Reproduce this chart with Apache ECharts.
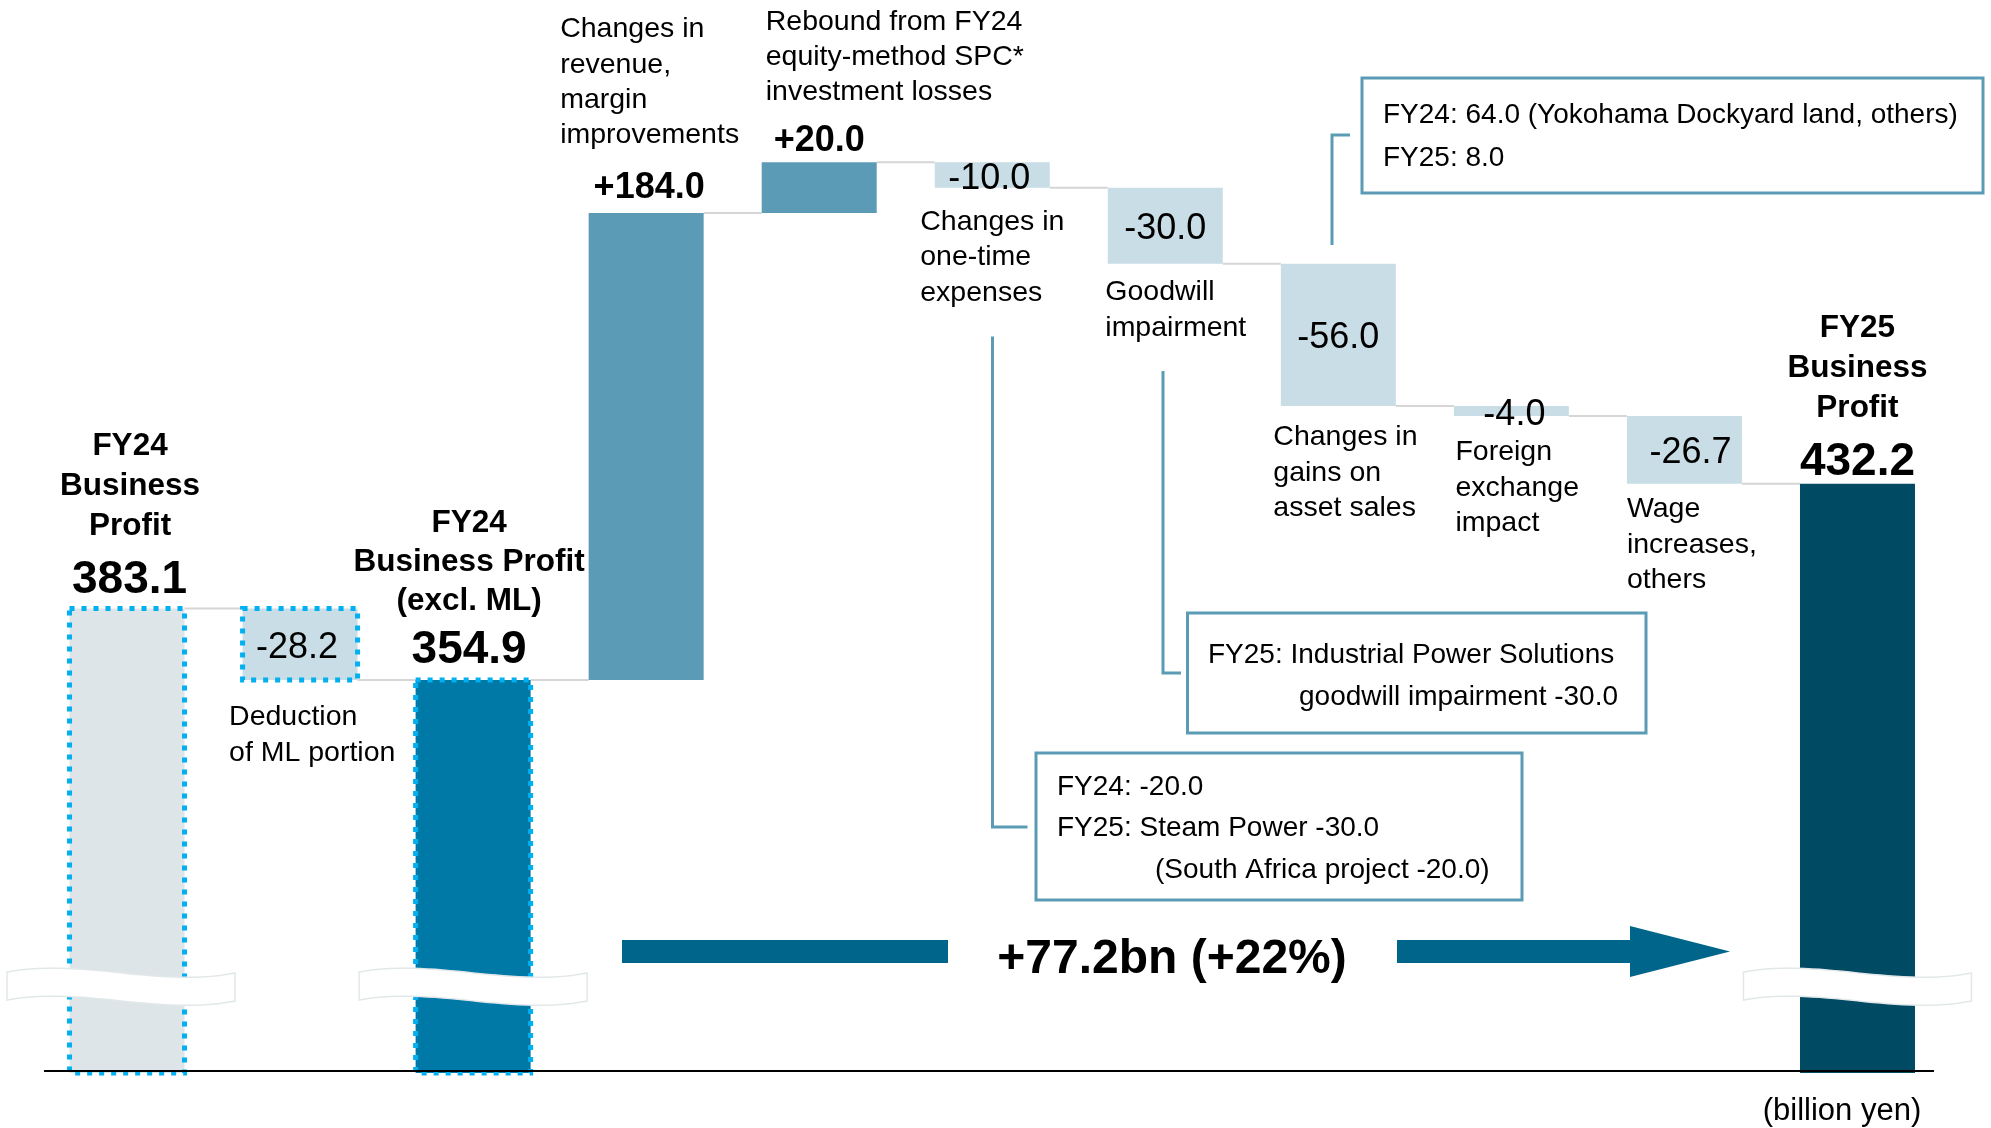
<!DOCTYPE html>
<html>
<head>
<meta charset="utf-8">
<title>FY25 Business Profit</title>
<script src="https://cdn.jsdelivr.net/npm/echarts@6.0.0/dist/echarts.min.js"></script>
<style>
    html, body { margin: 0; padding: 0; background: #fff; }
    #main { width: 1991px; height: 1128px; }
</style>
</head>
<body>
<div id="main"></div>
<script>
/************************    数据    ****************************/
var categories = [
    'FY24\nBusiness\nProfit',
    'Deduction\nof ML portion',
    'FY24\nBusiness Profit\n(excl. ML)',
    'Changes in\nrevenue,\nmargin\nimprovements',
    'Rebound from FY24\nequity-method SPC*\ninvestment losses',
    'Changes in\none-time\nexpenses',
    'Goodwill\nimpairment',
    'Changes in\ngains on\nasset sales',
    'Foreign\nexchange\nimpact',
    'Wage\nincreases,\nothers',
    'FY25\nBusiness\nProfit'
];
var values = [383.1, -28.2, 354.9, 184.0, 20.0, -10.0, -30.0, -56.0, -4.0, -26.7, 432.2];
var isTotal = [true, false, true, false, false, false, false, false, false, false, true];

var changeText = '+77.2bn (+22%)';
var unitText = '(billion yen)';
var noteAssets = ['FY24: 64.0 (Yokohama Dockyard land, others)', 'FY25: 8.0'];
var noteGoodwill = ['FY25: Industrial Power Solutions', 'goodwill impairment -30.0'];
var noteOneTime = ['FY24: -20.0', 'FY25: Steam Power -30.0', '(South Africa project -20.0)'];

/************************    样式    ****************************/
var AXIS_MIN = 200, AXIS_MAX = 600;
var BAR_W = 115;
var FONT = '"Liberation Sans", Arial, sans-serif';
var BASE_SHIFT = 0.26;   // 文字中线到基线的距离(字号倍数)
var C_NEG = '#c9dde6', C_POS = '#5b9bb5', C_DOT = '#00b0f0', C_LINE = '#5b9bb5', C_ARROW = '#00658a';
var barFill = ['#dde5e8', C_NEG, '#0079a7', C_POS, C_POS, C_NEG, C_NEG, C_NEG, C_NEG, C_NEG, '#004a63'];
var barDotted = [true, true, true, false, false, false, false, false, false, false, false];

// 名称标签位置: ref = 柱顶/柱底, dy = 第一行基线偏移, dx 相对柱中心(center)或柱左边(left)
var nameLayout = [
    { bold: true, size: 31.5, align: 'center', dx: 3, ref: 'top', dy: -153.5, step: 40 },
    { bold: false, size: 28.5, align: 'left', dx: -13.5, ref: 'bottom', dy: 45, step: 35.3 },
    { bold: true, size: 31.5, align: 'center', dx: -4, ref: 'top', dy: -148, step: 39 },
    { bold: false, size: 28.5, align: 'left', dx: -28.5, ref: 'top', dy: -176, step: 35.3 },
    { bold: false, size: 28.5, align: 'left', dx: 4, ref: 'top', dy: -133, step: 35.3 },
    { bold: false, size: 28.5, align: 'left', dx: -14.5, ref: 'bottom', dy: 42, step: 35.3 },
    { bold: false, size: 28.5, align: 'left', dx: -2.5, ref: 'bottom', dy: 36, step: 35.3 },
    { bold: false, size: 28.5, align: 'left', dx: -7.5, ref: 'bottom', dy: 39, step: 35.3 },
    { bold: false, size: 28.5, align: 'left', dx: 1.5, ref: 'bottom', dy: 44, step: 35.3 },
    { bold: false, size: 28.5, align: 'left', dx: 0, ref: 'bottom', dy: 33, step: 35.3 },
    { bold: true, size: 31.5, align: 'center', dx: 0, ref: 'top', dy: -147, step: 40 }
];
// 数值标签位置: inside = 柱内居中, 否则柱顶上方 gap
var valueLayout = [
    { bold: true, size: 46, dx: 2.5, gap: 16.5 },
    { bold: false, size: 36, dx: -3, inside: true },
    { bold: true, size: 46, dx: -4, gap: 18 },
    { bold: true, size: 36, dx: 3, gap: 16 },
    { bold: true, size: 36, dx: 0, gap: 12 },
    { bold: false, size: 36, dx: -3, inside: true },
    { bold: false, size: 36, dx: 0, inside: true },
    { bold: false, size: 36, dx: 0, inside: true },
    { bold: false, size: 36, dx: 3, inside: true },
    { bold: false, size: 36, dx: 6, inside: true },
    { bold: true, size: 46, dx: 0, gap: 10 }
];
// 断轴波浪: 所在柱 + 水平微调
var breakAt = [[0, -6], [2, 0], [10, 0]];

/************************    瀑布计算    ****************************/
var lows = [], highs = [], levels = [];
(function () {
    var run = 0;
    values.forEach(function (v, i) {
        if (isTotal[i]) {
            lows.push(AXIS_MIN);
            highs.push(v);
            run = v;
        } else {
            var next = run + v;
            lows.push(Math.min(run, next));
            highs.push(Math.max(run, next));
            run = next;
        }
        levels.push(run);
    });
})();

var barData = categories.map(function (c, i) { return [i, lows[i], highs[i]]; });
var linkData = [];
for (var k = 0; k < categories.length - 1; k++) {
    linkData.push([k, levels[k]]);
}

/************************    图表    ****************************/
var chart = echarts.init(document.getElementById('main'));

chart.setOption({
    animation: false,
    grid: { left: 40.5, right: 47, top: 58, bottom: 55 },
    xAxis: {
        type: 'category',
        data: categories,
        boundaryGap: true,
        axisTick: { show: false },
        axisLabel: { show: false },
        axisLine: { show: false }
    },
    yAxis: {
        type: 'value',
        min: AXIS_MIN,
        max: AXIS_MAX,
        show: false,
        splitLine: { show: false }
    },
    series: [
        {
            type: 'custom',
            data: linkData,
            encode: { x: 0, y: 1 },
            z: 1,
            renderItem: function (params, api) {
                var i = api.value(0);
                var a = api.coord([i, api.value(1)]);
                var b = api.coord([i + 1, api.value(1)]);
                return {
                    type: 'line',
                    shape: { x1: a[0] + BAR_W / 2, y1: a[1], x2: b[0] - BAR_W / 2, y2: a[1] },
                    style: { stroke: '#d6d6d6', lineWidth: 2 }
                };
            }
        },
        {
            type: 'custom',
            data: barData,
            encode: { x: 0, y: [1, 2] },
            z: 3,
            renderItem: function (params, api) {
                var i = api.value(0);
                var p0 = api.coord([i, api.value(1)]);
                var p1 = api.coord([i, api.value(2)]);
                var style = { fill: barFill[i] };
                if (barDotted[i]) {
                    style.stroke = C_DOT;
                    style.lineWidth = 5;
                    style.lineDash = [5, 7];
                }
                return {
                    type: 'rect',
                    shape: { x: p0[0] - BAR_W / 2, y: p1[1], width: BAR_W, height: p0[1] - p1[1] },
                    style: style
                };
            }
        }
    ]
});

/************************    标注    ****************************/
function px(i, v) {
    return chart.convertToPixel({ gridIndex: 0 }, [i, v]);
}
function textEl(str, x, baseline, size, bold, align) {
    return {
        type: 'text',
        z: 120,
        x: x,
        y: baseline - size * BASE_SHIFT,
        style: {
            text: str,
            font: (bold ? 'bold ' : '') + size + 'px ' + FONT,
            fill: '#000',
            align: align,
            verticalAlign: 'middle'
        }
    };
}
function fmtValue(v, i) {
    if (isTotal[i]) return v.toFixed(1);
    return (v > 0 ? '+' : '') + v.toFixed(1);
}
function breakBand(cx, top) {
    var w = 228, h = 28, n = 30, pts = [], i, s, y;
    var x0 = cx - w / 2;
    for (i = 0; i <= n; i++) {
        s = i / n;
        y = Math.pow(1 - s, 3) * 4 + 3 * Math.pow(1 - s, 2) * s * (-10) + 3 * (1 - s) * s * s * 20 + s * s * s * 5;
        pts.push([x0 + w * s, top + y]);
    }
    for (i = n; i >= 0; i--) {
        pts.push([pts[i][0], pts[i][1] + h]);
    }
    return {
        type: 'polygon',
        z: 110,
        shape: { points: pts },
        style: { fill: '#fff', stroke: '#e2e8ea', lineWidth: 1.5 }
    };
}

var els = [];
var yBase = px(0, AXIS_MIN)[1];

// 横轴线
els.push({
    type: 'line', z: 90,
    shape: { x1: px(0, AXIS_MIN)[0] - 83, y1: yBase - 2, x2: px(10, AXIS_MIN)[0] + 76.5, y2: yBase - 2 },
    style: { stroke: '#000', lineWidth: 2 }
});

categories.forEach(function (name, i) {
    var top = px(i, highs[i]);
    var bottom = px(i, lows[i]);
    var cx = top[0];
    // 名称
    var nl = nameLayout[i];
    var lines = name.split('\n');
    var x = nl.align === 'center' ? cx + nl.dx : cx - BAR_W / 2 + nl.dx;
    var first = (nl.ref === 'top' ? top[1] : bottom[1]) + nl.dy;
    lines.forEach(function (ln, j) {
        els.push(textEl(ln, x, first + j * nl.step, nl.size, nl.bold, nl.align));
    });
    // 数值
    var vl = valueLayout[i];
    var base = vl.inside ? (top[1] + bottom[1]) / 2 + 13 : top[1] - vl.gap;
    els.push(textEl(fmtValue(values[i], i), cx + vl.dx, base, vl.size, vl.bold, 'center'));
});

// 断轴波浪
breakAt.forEach(function (b) {
    els.push(breakBand(px(b[0], AXIS_MIN)[0] + b[1], yBase - 105));
});

// 箭头
els.push({ type: 'rect', z: 100, shape: { x: 622, y: 940, width: 326, height: 23 }, style: { fill: C_ARROW } });
els.push({ type: 'rect', z: 100, shape: { x: 1397, y: 940, width: 234, height: 23 }, style: { fill: C_ARROW } });
els.push({ type: 'polygon', z: 100, shape: { points: [[1630, 926], [1730, 951.5], [1630, 977]] }, style: { fill: C_ARROW } });
els.push(textEl(changeText, 1172, 972, 48, true, 'center'));

// 单位
els.push(textEl(unitText, 1842, 1120, 31, false, 'center'));

// 注释框
function boxEl(x, y, w, h) {
    return { type: 'rect', z: 100, shape: { x: x, y: y, width: w, height: h }, style: { fill: '#fff', stroke: C_LINE, lineWidth: 3 } };
}
function leaderEl(points) {
    return { type: 'polyline', z: 100, shape: { points: points }, style: { stroke: C_LINE, lineWidth: 3, fill: null } };
}
els.push(boxEl(1362, 78, 621, 115));
els.push(leaderEl([[1350, 135], [1332, 135], [1332, 245]]));
els.push(textEl(noteAssets[0], 1383, 123, 28, false, 'left'));
els.push(textEl(noteAssets[1], 1383, 166, 28, false, 'left'));

els.push(boxEl(1187.5, 613, 458.5, 120));
els.push(leaderEl([[1163, 371], [1163, 673], [1181, 673]]));
els.push(textEl(noteGoodwill[0], 1208, 663, 28, false, 'left'));
els.push(textEl(noteGoodwill[1], 1299, 705, 28, false, 'left'));

els.push(boxEl(1036, 753, 486, 147));
els.push(leaderEl([[992.5, 336.5], [992.5, 827], [1027.5, 827]]));
els.push(textEl(noteOneTime[0], 1057, 795, 28, false, 'left'));
els.push(textEl(noteOneTime[1], 1057, 836, 28, false, 'left'));
els.push(textEl(noteOneTime[2], 1155, 878, 28, false, 'left'));

chart.setOption({ graphic: { elements: els } });
</script>
</body>
</html>
